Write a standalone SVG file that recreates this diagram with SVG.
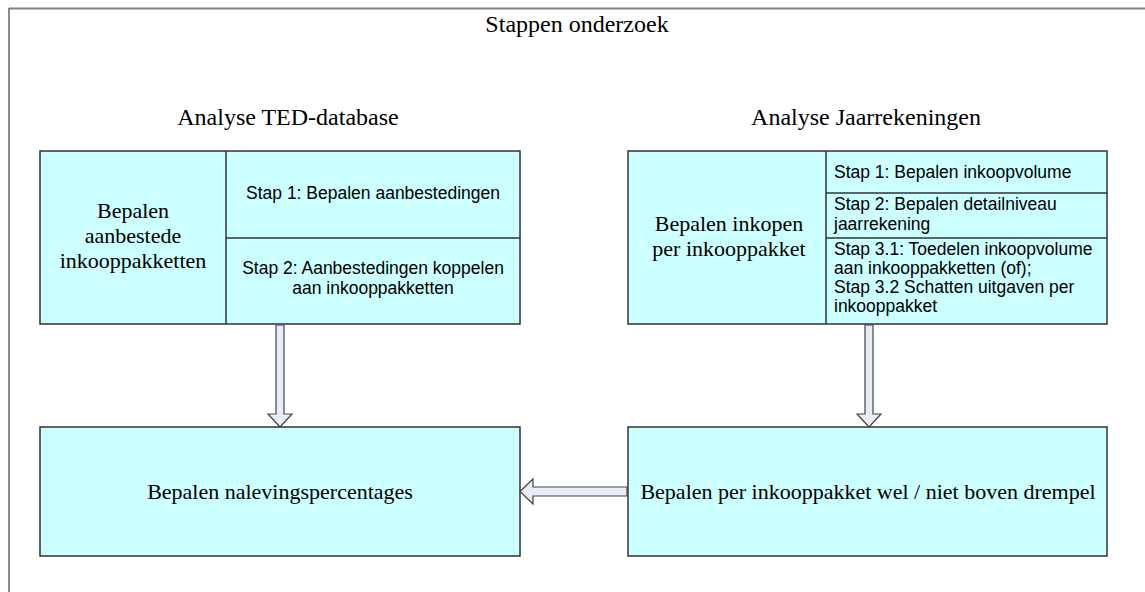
<svg xmlns="http://www.w3.org/2000/svg" width="1145" height="592" viewBox="0 0 1145 592">
<style>
.box{fill:#ccffff;stroke:#333;stroke-width:1.5}
.div{stroke:#333;stroke-width:1.5;fill:none}
.serif{font-family:"Liberation Serif","Times New Roman",serif;fill:#000}
.sans{font-family:"Liberation Sans",Arial,sans-serif;fill:#000;font-size:17.5px}
.arrow{fill:#e8ecf6;stroke:#444;stroke-width:1.2;stroke-linejoin:miter}
</style>
<rect width="1145" height="592" fill="#fff"/>
<g id="frame">
<line x1="9" y1="8.5" x2="1145" y2="8.5" stroke="#808080" stroke-width="2"/>
<line x1="9" y1="8" x2="9" y2="592" stroke="#666" stroke-width="1.5"/>
</g>
<text class="serif" x="577" y="32" font-size="24" text-anchor="middle">Stappen onderzoek</text>
<text class="serif" x="288" y="125" font-size="24" text-anchor="middle">Analyse TED-database</text>
<text class="serif" x="866" y="125" font-size="24" text-anchor="middle">Analyse Jaarrekeningen</text>

<g id="ted">
<rect class="box" x="40" y="151" width="480" height="173"/>
<line class="div" x1="226" y1="151" x2="226" y2="324"/>
<line class="div" x1="226" y1="238" x2="520" y2="238"/>
<text class="serif" font-size="22" text-anchor="middle"><tspan x="133" y="218">Bepalen</tspan><tspan x="133" y="243">aanbestede</tspan><tspan x="133" y="268">inkooppakketten</tspan></text>
<text class="sans" x="373" y="199" text-anchor="middle">Stap 1: Bepalen aanbestedingen</text>
<text class="sans" text-anchor="middle"><tspan x="373" y="274">Stap 2: Aanbestedingen koppelen</tspan><tspan x="373" y="294">aan inkooppakketten</tspan></text>
</g>

<g id="jaar">
<rect class="box" x="628" y="151" width="479" height="173"/>
<line class="div" x1="826" y1="151" x2="826" y2="324"/>
<line class="div" x1="826" y1="193" x2="1107" y2="193"/>
<line class="div" x1="826" y1="238" x2="1107" y2="238"/>
<text class="serif" font-size="22" text-anchor="middle"><tspan x="729" y="231">Bepalen inkopen</tspan><tspan x="729" y="256">per inkooppakket</tspan></text>
<text class="sans" x="834" y="178">Stap 1: Bepalen inkoopvolume</text>
<text class="sans"><tspan x="834" y="210">Stap 2: Bepalen detailniveau</tspan><tspan x="834" y="230">jaarrekening</tspan></text>
<text class="sans"><tspan x="834" y="255">Stap 3.1: Toedelen inkoopvolume</tspan><tspan x="834" y="274">aan inkooppakketten (of);</tspan><tspan x="834" y="293">Stap 3.2 Schatten uitgaven per</tspan><tspan x="834" y="312">inkooppakket</tspan></text>
</g>

<g id="naleving">
<rect class="box" x="40" y="427" width="480" height="129"/>
<text class="serif" x="280" y="499" font-size="22" text-anchor="middle">Bepalen nalevingspercentages</text>
</g>

<g id="drempel">
<rect class="box" x="628" y="427" width="479" height="129"/>
<text class="serif" x="868" y="499" font-size="22" text-anchor="middle">Bepalen per inkooppakket wel / niet boven drempel</text>
</g>

<g id="connectors">
<polygon class="arrow" points="276,325 284,325 284,414 292,414 280,427 268,414 276,414"/>
<polygon class="arrow" points="865,325 873,325 873,414 881,414 869,427 857,414 865,414"/>
<polygon class="arrow" points="627,487 533,487 533,479 520,491.5 533,504 533,496 627,496"/>
</g>
</svg>
